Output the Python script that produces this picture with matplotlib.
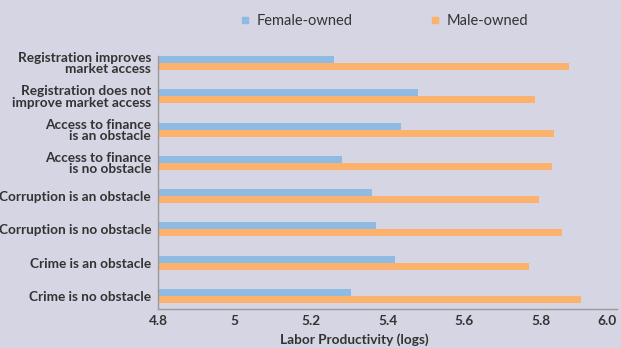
import numpy as np
import matplotlib
matplotlib.use('Agg')
import matplotlib.pyplot as plt
from matplotlib.lines import Line2D

# Labor productivity (logs) by business environment, female- vs male-owned firms
categories = [
    'Registration improves\nmarket access',
    'Registration does not\nimprove market access',
    'Access to finance\nis an obstacle',
    'Access to finance\nis no obstacle',
    'Corruption is an obstacle',
    'Corruption is no obstacle',
    'Crime is an obstacle',
    'Crime is no obstacle',
]
female_owned = [5.26, 5.48, 5.435, 5.28, 5.36, 5.37, 5.42, 5.305]
male_owned = [5.875, 5.785, 5.835, 5.83, 5.795, 5.855, 5.77, 5.905]
xticks = [4.8, 5.0, 5.2, 5.4, 5.6, 5.8, 6.0]
xtick_labels = ['4.8', '5', '5.2', '5.4', '5.6', '5.8', '6.0']

bg = '#D5D5E3'
c_female = '#8FBBE3'
c_male = '#FCB26C'
txt = '#333333'
fs = 9.8

plt.rcParams['font.family'] = ['Lato', 'DejaVu Sans']

fig = plt.figure(figsize=(6.21, 3.48), dpi=100, facecolor=bg)
ax = fig.add_axes([158 / 621, 1 - 309 / 348, 459 / 621, 266 / 348])
ax.set_facecolor(bg)

y = np.arange(len(categories))
h = 0.21
ax.barh(y, np.array(female_owned) - 4.8, left=4.8, height=h, color=c_female)
ax.barh(y + h, np.array(male_owned) - 4.8, left=4.8, height=h, color=c_male)

ax.set_xlim(4.8, 6.0)
ax.set_ylim(7.5, -0.5)
ax.set_yticks(y + h / 2)
ax.set_yticklabels(categories, fontsize=fs, fontweight='bold', color=txt,
                   linespacing=0.92)
ax.set_xticks(xticks)
ax.set_xticklabels(xtick_labels, fontsize=fs, fontweight='bold', color=txt)
ax.get_xticklabels()[-1].set_horizontalalignment('right')
ax.tick_params(axis='y', length=0, pad=5)
ax.tick_params(axis='x', length=0, pad=4)

for s in ['top', 'right']:
    ax.spines[s].set_visible(False)
for s in ['left', 'bottom']:
    ax.spines[s].set_color('#9A9A9A')
    ax.spines[s].set_linewidth(1)
ax.spines['left'].set_bounds(7.5, -h / 2)

ax.set_xlabel('Labor Productivity (logs)', fontsize=fs, fontweight='bold',
              color=txt, labelpad=3)
ax.xaxis.set_label_coords((354 - 158) / 459, -0.09)

handles = [
    Line2D([], [], marker='s', linestyle='none', markersize=4.8,
           markerfacecolor=c_female, markeredgecolor=c_female),
    Line2D([], [], marker='s', linestyle='none', markersize=4.8,
           markerfacecolor=c_male, markeredgecolor=c_male),
]
fig.legend(handles, ['Female-owned', 'Male-owned'], ncol=2, frameon=False,
           loc='center', bbox_to_anchor=(383 / 621, 1 - 21 / 348),
           fontsize=10.5, labelcolor=txt, handletextpad=0.3, columnspacing=5.2,
           handlelength=1.0, borderpad=0)

fig.savefig('out.png', dpi=100, facecolor=bg)
